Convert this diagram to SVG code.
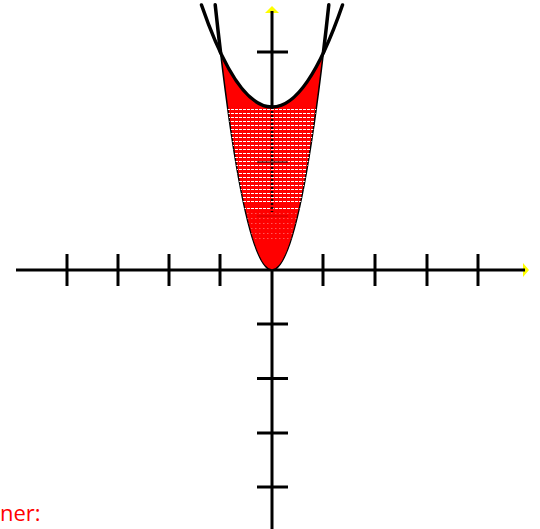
<svg xmlns="http://www.w3.org/2000/svg" width="540" height="529" viewBox="0 0 540 529">
<style>
.ax{stroke:#000;stroke-width:3;fill:none}
.tk{stroke:#000;stroke-width:3}
.arr{fill:#ffff00}
.curve{stroke:#000;stroke-width:3.5;fill:none;stroke-linecap:round}
.hatch{stroke:#fff;stroke-width:1;stroke-dasharray:3 1}
.hatchf{stroke:#fff;stroke-width:1;stroke-dasharray:1.5 2.5;opacity:0.35}
</style>
<defs>
<clipPath id="reg">
<path d="M220.6,52.8 Q272,161.4 323.4,52.8 Q272,487.2 220.6,52.8 Z"/>
</clipPath>
</defs>
<rect width="540" height="529" fill="#fff"/>
<g id="axes">
<polygon class="arr" points="529,270 523,263 523,277"/>
<polygon class="arr" points="272,6 265,13 279,13"/>
<line class="ax" x1="16" y1="270" x2="525" y2="270"/>
<line class="ax" x1="272" y1="11" x2="272" y2="529"/>
<g class="tk">
<line x1="67" y1="254" x2="67" y2="286"/>
<line x1="118" y1="254" x2="118" y2="286"/>
<line x1="169" y1="254" x2="169" y2="286"/>
<line x1="220" y1="254" x2="220" y2="286"/>
<line x1="323" y1="254" x2="323" y2="286"/>
<line x1="375" y1="254" x2="375" y2="286"/>
<line x1="427" y1="254" x2="427" y2="286"/>
<line x1="478" y1="254" x2="478" y2="286"/>
<line x1="257" y1="52" x2="288" y2="52"/>
<line x1="257" y1="324" x2="288" y2="324"/>
<line x1="257" y1="378.5" x2="288" y2="378.5"/>
<line x1="257" y1="433" x2="288" y2="433"/>
<line x1="257" y1="487" x2="288" y2="487"/>
</g>
</g>
<g id="region">
<path d="M220.6,52.8 Q272,161.4 323.4,52.8 Q272,487.2 220.6,52.8 Z" fill="#ff0000" stroke="#000" stroke-width="1.5"/>
<g clip-path="url(#reg)">
<g class="hatch">
<line x1="215" y1="109.5" x2="330" y2="109.5"/>
<line x1="215" y1="113.5" x2="330" y2="113.5"/>
<line x1="215" y1="117.5" x2="330" y2="117.5"/>
<line x1="215" y1="121.5" x2="330" y2="121.5"/>
<line x1="215" y1="125.5" x2="330" y2="125.5"/>
<line x1="215" y1="129.5" x2="330" y2="129.5"/>
<line x1="215" y1="133.5" x2="330" y2="133.5"/>
<line x1="215" y1="137.5" x2="330" y2="137.5"/>
<line x1="215" y1="141.5" x2="330" y2="141.5"/>
<line x1="215" y1="145.5" x2="330" y2="145.5"/>
<line x1="215" y1="149.5" x2="330" y2="149.5"/>
<line x1="215" y1="153.5" x2="330" y2="153.5"/>
<line x1="215" y1="157.5" x2="330" y2="157.5"/>
<line x1="215" y1="161.5" x2="330" y2="161.5"/>
<line x1="215" y1="165.5" x2="330" y2="165.5"/>
<line x1="215" y1="169.5" x2="330" y2="169.5"/>
<line x1="215" y1="173.5" x2="330" y2="173.5"/>
<line x1="215" y1="177.5" x2="330" y2="177.5"/>
<line x1="215" y1="181.5" x2="330" y2="181.5"/>
<line x1="215" y1="185.5" x2="330" y2="185.5"/>
<line x1="215" y1="189.5" x2="330" y2="189.5"/>
<line x1="215" y1="193.5" x2="330" y2="193.5"/>
<line x1="215" y1="197.5" x2="330" y2="197.5"/>
<line x1="215" y1="201.5" x2="330" y2="201.5"/>
<line x1="215" y1="208.5" x2="330" y2="208.5"/>
</g>
<g class="hatchf">
<line x1="215" y1="213.5" x2="330" y2="213.5"/>
<line x1="215" y1="218.5" x2="330" y2="218.5"/>
<line x1="215" y1="223.5" x2="330" y2="223.5"/>
<line x1="215" y1="228.5" x2="330" y2="228.5"/>
<line x1="215" y1="233.5" x2="330" y2="233.5"/>
<line x1="215" y1="238.5" x2="330" y2="238.5"/>
</g>
<line x1="272" y1="107" x2="272" y2="212" stroke="#000" stroke-width="2.5" stroke-dasharray="2 2" opacity="0.9"/>
<line x1="257" y1="162" x2="288" y2="162" stroke="#000" stroke-width="1.5" opacity="0.6"/>
<line x1="257" y1="216" x2="288" y2="216" stroke="#000" stroke-width="1.5" opacity="0.12"/>
</g>
</g>
<g id="curves">
<path class="curve" d="M201.5,5 Q272,209.2 342.5,5"/>
<path class="curve" d="M220.6,52.8 Q217.9,30 215.2,4.8"/>
<path class="curve" d="M323.4,52.8 Q326.1,30 328.8,4.8"/>
</g>
<text x="0" y="521" font-family="Open Sans, Lato, sans-serif" font-size="22" fill="#ff0000">ner:</text>
</svg>
